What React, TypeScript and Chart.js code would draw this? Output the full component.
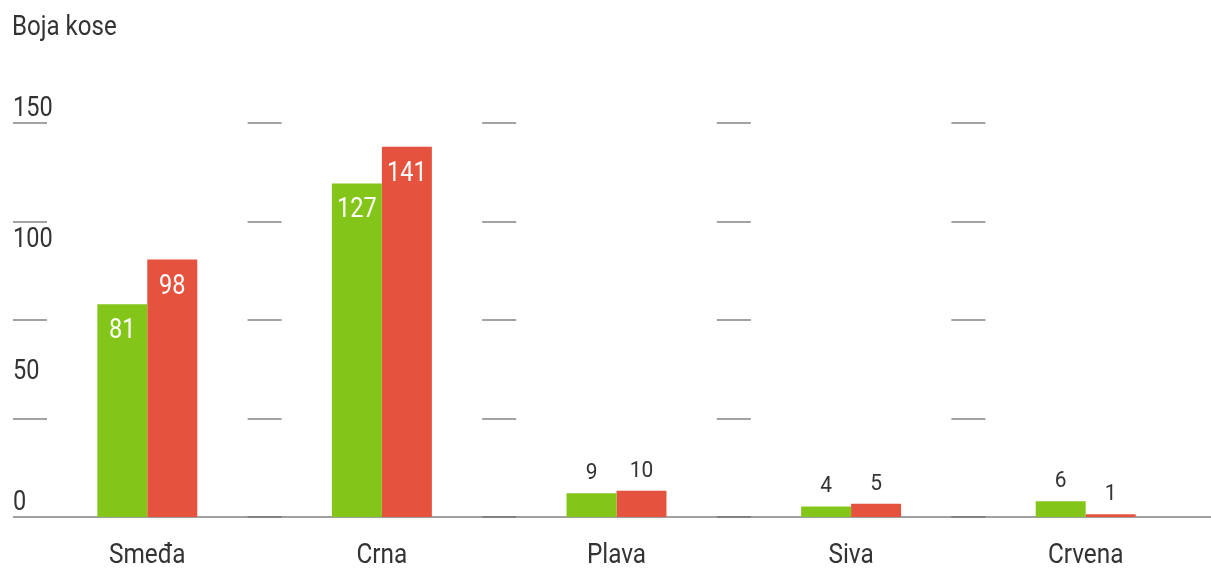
import React, { useEffect, useRef } from "react";
import { Chart, registerables } from "chart.js";

Chart.register(...registerables);

const categories = ["Smeđa", "Crna", "Plava", "Siva", "Crvena"];
const seriesGreen = [81, 127, 9, 4, 6];
const seriesRed = [98, 141, 10, 5, 1];
const yLabelValues = [0, 50, 100, 150];
const gridValues = [37.5, 75, 112.5, 150];
const titleText = "Boja kose";

const FONT = 'Roboto, "Liberation Sans", sans-serif';
const GREEN = "#84c51a";
const RED = "#e5533f";
const TEXT = "#333333";

function drawText(ctx: any, text: string, x: number, y: number, align: string, size: number, sx: number, color: string) {
  ctx.save();
  ctx.font = `${size}px ${FONT}`;
  ctx.fillStyle = color;
  ctx.textBaseline = "alphabetic";
  ctx.textAlign = align;
  ctx.translate(x, y);
  ctx.scale(sx, 1);
  ctx.fillText(text, 0, 0);
  ctx.restore();
}

const decorPlugin = {
  id: "decor",
  beforeDatasetsDraw(chart: any) {
    const { ctx, scales } = chart;
    const x = scales.x;
    const y = scales.y;
    const catW = (x.right - x.left) / categories.length;
    ctx.save();
    ctx.strokeStyle = "#a3a3a3";
    ctx.lineWidth = 2;
    for (const v of gridValues) {
      const py = Math.round(y.getPixelForValue(v));
      for (let i = 0; i < categories.length; i++) {
        const bx = x.getPixelForValue(i) - catW / 2;
        ctx.beginPath();
        ctx.moveTo(bx - 17, py);
        ctx.lineTo(bx + 17, py);
        ctx.stroke();
      }
    }
    const by = Math.round(y.getPixelForValue(0));
    ctx.strokeStyle = "#a0a0a0";
    ctx.beginPath();
    ctx.moveTo(13, by);
    ctx.lineTo(chart.width, by);
    ctx.stroke();
    ctx.strokeStyle = "#808080";
    for (let i = 1; i < categories.length; i++) {
      const bx = x.getPixelForValue(i) - catW / 2;
      ctx.beginPath();
      ctx.moveTo(bx - 17, by);
      ctx.lineTo(bx + 17, by);
      ctx.stroke();
    }
    ctx.restore();
  },
  afterDatasetsDraw(chart: any) {
    const { ctx, scales } = chart;
    const x = scales.x;
    const y = scales.y;
    drawText(ctx, titleText, 12, 35, "left", 28, 0.86, TEXT);
    for (const v of yLabelValues) {
      drawText(ctx, String(v), 13, y.getPixelForValue(v) - 7, "left", 28, 0.84, TEXT);
    }
    categories.forEach((c, i) => {
      drawText(ctx, c, x.getPixelForValue(i), 563, "center", 28, 0.87, TEXT);
    });
    chart.data.datasets.forEach((ds: any, di: number) => {
      const meta = chart.getDatasetMeta(di);
      meta.data.forEach((bar: any, i: number) => {
        const v = ds.data[i];
        if (v >= 30) {
          drawText(ctx, String(v), bar.x, bar.y + 34, "center", 28, 0.84, "#ffffff");
        } else {
          drawText(ctx, String(v), bar.x, bar.y - 14, "center", 22, 0.95, TEXT);
        }
      });
    });
  },
};

export default function App() {
  const ref = useRef<HTMLCanvasElement | null>(null);
  useEffect(() => {
    if (!ref.current) return;
    const chart = new Chart(ref.current, {
      type: "bar",
      data: {
        labels: categories,
        datasets: [
          { label: "A", data: seriesGreen, backgroundColor: GREEN, borderWidth: 0 },
          { label: "B", data: seriesRed, backgroundColor: RED, borderWidth: 0 },
        ],
      },
      options: {
        animation: false,
        responsive: false,
        maintainAspectRatio: false,
        layout: { padding: { left: 30, right: 8, top: 123, bottom: 51 } },
        datasets: { bar: { categoryPercentage: 0.426, barPercentage: 1 } },
        plugins: { legend: { display: false }, tooltip: { enabled: false }, title: { display: false } },
        scales: {
          x: { display: false, offset: true },
          y: { display: false, min: 0, max: 150 },
        },
      },
      plugins: [decorPlugin],
    });
    return () => chart.destroy();
  }, []);
  return (
    <div style={{ position: "fixed", left: 0, top: 0, width: 1211, height: 568, background: "#fff" }}>
      <canvas ref={ref} width={1211} height={568} style={{ width: 1211, height: 568, display: "block" }} />
    </div>
  );
}
